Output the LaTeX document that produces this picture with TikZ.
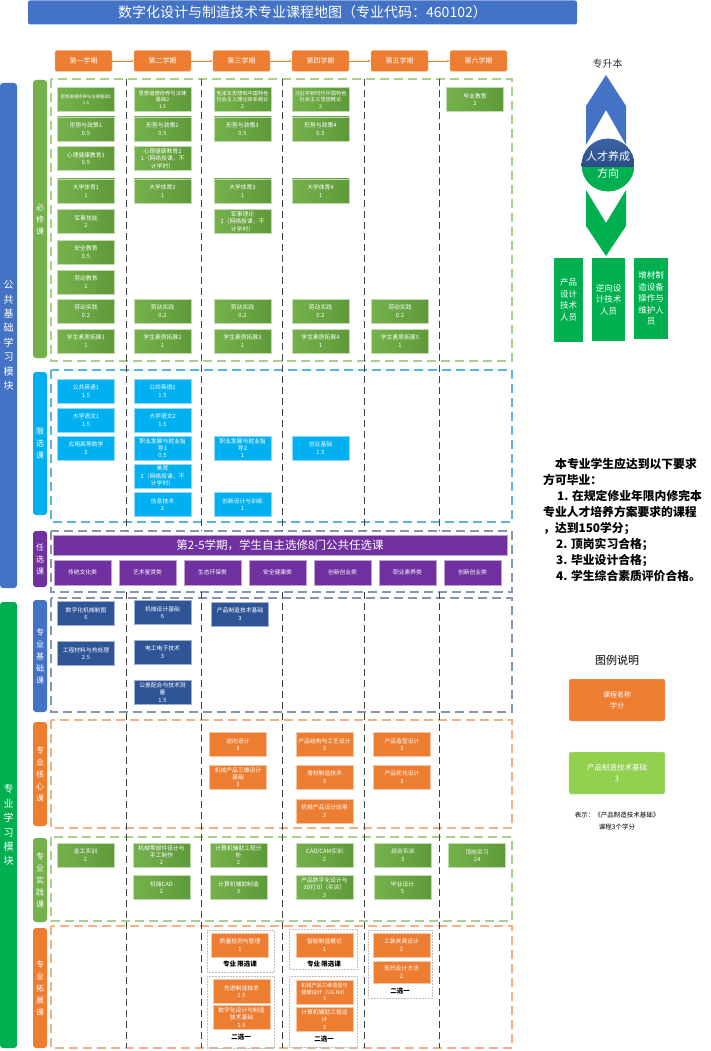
\documentclass[tikz,border=0pt]{standalone}
\usepackage{fontspec}
\setmainfont{Noto Sans CJK SC}
\usepackage{xcolor}
\usepackage{tikz}
\usetikzlibrary{arrows.meta, positioning, calc}

\definecolor{ctitle}{HTML}{4472C4}
\definecolor{corange}{HTML}{ED7D31}
\definecolor{cgreenA}{HTML}{75B14B}
\definecolor{cgreenB}{HTML}{5E9A38}
\definecolor{ccyan}{HTML}{00B0F0}
\definecolor{cpurp}{HTML}{7030A0}
\definecolor{cnavy}{HTML}{2F5597}
\definecolor{clgreen}{HTML}{92D050}
\definecolor{cmodg}{HTML}{00B050}
\definecolor{cnavyA}{HTML}{3A64A8}
\definecolor{cnavyB}{HTML}{1F3864}
\definecolor{ffgreen}{HTML}{A9D18E}
\definecolor{ffcyan}{HTML}{5AB4E0}
\definecolor{ffgray}{HTML}{8497B0}
\definecolor{fforange}{HTML}{F4B183}

\begin{document}
\begin{tikzpicture}[x=1pt, y=-1pt,
    crs/.style={rectangle, minimum width=57, minimum height=24, inner sep=0.5pt, align=center, text=white, line width=0.6pt, font=\fontsize{5.8}{7.4}\selectfont},
    bxg/.style={crs, left color=cgreenA, right color=cgreenB, draw=cgreenA!45!white},
    bxc/.style={crs, fill=ccyan, draw=ccyan!45!white},
    bxp/.style={crs, fill=cpurp, draw=cpurp!45!white},
    bxb/.style={crs, fill=cnavy, draw=cnavy!45!white},
    bxo/.style={crs, fill=corange, draw=corange!45!white},
    hdr/.style={fill=corange, draw=corange!50!white, rounded corners=2pt, minimum width=57, minimum height=21, text=white, inner sep=0pt, font=\fontsize{7}{8}\selectfont},
    frame/.style={dash pattern=on 9pt off 5pt, line width=1.2pt},
    sep/.style={black!75, dash pattern=on 7pt off 4pt, line width=0.7pt},
    catlbl/.style={rounded corners=3pt, minimum width=14, text=white, align=center, inner sep=0pt, font=\fontsize{8}{12}\selectfont},
    modbar/.style={rounded corners=3pt, minimum width=17, text=white, align=center, inner sep=0pt, font=\fontsize{10}{14.4}\selectfont},
    grp/.style={draw=black!25, densely dotted, line width=0.5pt},
    pickcap/.style={font=\fontsize{6.5}{8}\selectfont\bfseries, inner sep=0pt},
    career/.style={fill=cmodg, text=white, align=center, inner sep=0pt, font=\fontsize{8.5}{11.5}\selectfont}
]
    \useasboundingbox (0,0) rectangle (711,1051);

    % Title
    \node[fill=ctitle, rounded corners=2pt, minimum width=549, minimum height=24, inner sep=0pt, text=white, font=\fontsize{14}{16}\selectfont] (title) at (302.5,12.5) {数字化设计与制造技术专业课程地图（专业代码：460102）};

    % Semester headers
    \node[hdr] (s1) at (83.5,61) {第一学期};
    \node[hdr] (s2) at (162.5,61) {第二学期};
    \node[hdr] (s3) at (241.5,61) {第三学期};
    \node[hdr] (s4) at (320.5,61) {第四学期};
    \node[hdr] (s5) at (399.5,61) {第五学期};
    \node[hdr] (s6) at (478.5,61) {第六学期};
    \foreach \a/\b in {s1/s2,s2/s3,s3/s4,s4/s5,s5/s6}
        \draw[-{Stealth[length=3pt]}, corange, line width=0.8pt] (\a) -- (\b);

    % Module bars
    \node[modbar, fill=ctitle, minimum height=505] (modA) at (8.5,335.5) {公\\共\\基\\础\\学\\习\\模\\块};
    \node[modbar, fill=cmodg, minimum height=446] (modB) at (8.5,825) {专\\业\\学\\习\\模\\块};

    % Category labels
    \node[catlbl, fill=cgreenA, minimum height=278] (kBX) at (40,219) {必\\修\\课};
    \node[catlbl, fill=ccyan, minimum height=143] (kXX) at (40,443.5) {限\\选\\课};
    \node[catlbl, fill=cpurp, minimum height=56] (kRX) at (40,559) {任\\选\\课};
    \node[catlbl, fill=ctitle, minimum height=112] (kJC) at (40,656) {专\\业\\基\\础\\课};
    \node[catlbl, fill=corange, minimum height=104] (kHX) at (40,774) {专\\业\\核\\心\\课};
    \node[catlbl, fill=cgreenA, minimum height=84] (kSJ) at (40,880) {专\\业\\实\\践\\课};
    \node[catlbl, fill=corange, minimum height=120] (kTZ) at (40,988) {专\\业\\拓\\展\\课};

    % Frames
    \draw[frame, draw=ffgreen] (51,79) rectangle (512,361);
    \draw[frame, draw=ffcyan] (51,370) rectangle (512,522);
    \draw[frame, draw=ffgray] (51,531) rectangle (512,592);
    \draw[frame, draw=ffgray] (51,598) rectangle (512,712);
    \draw[frame, draw=fforange] (51,720) rectangle (512,828);
    \draw[frame, draw=ffgreen] (51,837) rectangle (512,921);
    \draw[frame, draw=fforange] (51,926) rectangle (512,1048);

    % Column separators
    \foreach \sx in {126,201,282,364,439} {
        \draw[sep] (\sx,79) -- (\sx,531);
        \draw[sep] (\sx,592) -- (\sx,1048);
    }

    % Required courses
    \node[bxg, font=\fontsize{4.4}{6.2}\selectfont] (bA1) at (86,99.5) {思想道德修养与法律基础1\\1.5};
    \node[bxg] (bA3) at (86,158.5) {心理健康教育1\\0.5};
    \node[bxg] (bA5) at (86,221.5) {军事技能\\2};
    \node[bxg] (bA6) at (86,252) {安全教育\\0.5};
    \node[bxg] (bA7) at (86,282) {劳动教育\\1};
    \node[bxg, font=\fontsize{5.3}{6.6}\selectfont] (bB1) at (162.5,99.5) {思想道德修养与法律\\基础2\\1.5};
    \node[bxg] (bB3) at (162.5,158.5) {心理健康教育2\\1（网络授课，不\\计学时）};
    \node[bxg, font=\fontsize{5.2}{6.6}\selectfont] (bC1) at (242.5,99.5) {毛泽东思想和中国特色\\社会主义理论体系概论\\2};
    \node[bxg] (bC5) at (242.5,221.5) {军事理论\\2（网络授课，不\\计学时）};
    \node[bxg, font=\fontsize{5.2}{6.6}\selectfont] (bD1) at (320.5,99.5) {习近平新时代中国特色\\社会主义思想概论\\2};
    \node[bxg] (bF1) at (475,99.5) {毕业教育\\2};
    \foreach \i/\cx in {1/86,2/162.5,3/242.5,4/320.5} {
        \node[bxg] (bX\i) at (\cx,129) {形势与政策\i\\0.5};
        \node[bxg] (bT\i) at (\cx,191) {大学体育\i\\1};
    }
    \foreach \i/\cx in {1/86,2/162.5,3/242.5,4/320.5,5/400} {
        \node[bxg] (bL\i) at (\cx,311) {劳动实践\\0.2};
        \node[bxg] (bS\i) at (\cx,341) {学生素质拓展\i\\1};
    }

    % Restricted electives
    \node[bxc] (xA1) at (86,391) {公共英语1\\1.5};
    \node[bxc] (xA2) at (86,420) {大学语文1\\1.5};
    \node[bxc] (xA3) at (86,448) {应用高等数学\\2};
    \node[bxc] (xB1) at (162.5,391) {公共英语2\\1.5};
    \node[bxc] (xB2) at (162.5,420) {大学语文2\\1.5};
    \node[bxc] (xB3) at (162.5,448) {职业发展与就业指\\导1\\0.5};
    \node[bxc] (xB4) at (162.5,476) {美育\\2（网络授课，不\\计学时）};
    \node[bxc] (xB5) at (162.5,504.5) {信息技术\\2};
    \node[bxc] (xC3) at (242.5,448) {职业发展与就业指\\导2\\1};
    \node[bxc] (xC5) at (242.5,504.5) {创新设计与训练\\1};
    \node[bxc] (xD3) at (320.5,448) {创业基础\\1.5};

    % Free electives
    \node[fill=cpurp, draw=cpurp!45!white, minimum width=454, minimum height=20, inner sep=0pt, text=white, font=\fontsize{11.5}{13}\selectfont] (rTitle) at (280,545) {第2-5学期，学生自主选修8门公共任选课};
    \foreach \i/\t in {1/传统文化类,2/艺术鉴赏类,3/生态环保类,4/安全健康类,5/创新创业类,6/职业素养类,7/创新创业类}
        \node[bxp, minimum height=25] (r\i) at ({17.5+65*\i},572.5) {\t};

    % Professional basics
    \node[bxb] (jA1) at (86,613.5) {数字化机械制图\\6};
    \node[bxb] (jA2) at (86,653.5) {工程材料与热处理\\2.5};
    \node[bxb] (jB1) at (162.5,612.5) {机械设计基础\\6};
    \node[bxb] (jB2) at (162.5,652) {电工电子技术\\3};
    \node[bxb] (jB3) at (162.5,692.5) {公差配合与技术测\\量\\1.5};
    \node[bxb] (jC1) at (240,614) {产品制造技术基础\\3};

    % Professional core
    \node[bxo] (hC1) at (238,744.5) {逆向设计\\3};
    \node[bxo] (hC2) at (238,777) {机械产品三维设计\\基础\\3};
    \node[bxo] (hD1) at (324.5,744.5) {产品结构与工艺设计\\3};
    \node[bxo] (hD2) at (324.5,777) {增材制造技术\\3};
    \node[bxo] (hD3) at (324.5,811) {机械产品设计应用\\3};
    \node[bxo] (hE1) at (402,744.5) {产品造型设计\\3};
    \node[bxo] (hE2) at (402,777) {产品优化设计\\3};

    % Professional practice
    \node[bxg] (pA1) at (85.5,855) {金工实训\\2};
    \node[bxg] (pB1) at (161.5,855) {机械零部件设计与\\手工制作\\2};
    \node[bxg] (pB2) at (161.5,887.5) {机械CAD\\2};
    \node[bxg] (pC1) at (238.5,855) {计算机辅助工程分\\析\\2};
    \node[bxg] (pC2) at (238.5,887.5) {计算机辅助制造\\3};
    \node[bxg] (pD1) at (324.5,855) {CAD/CAM实训\\2};
    \node[bxg] (pD2) at (324.5,887.5) {产品数字化设计与\\3D打印（实训）\\3};
    \node[bxg] (pE1) at (403,855) {综合实训\\5};
    \node[bxg] (pE2) at (402.5,887.5) {毕业设计\\5};
    \node[bxg] (pF1) at (477,855.5) {顶岗实习\\24};

    % Professional extension
    \draw[grp] (207,930) rectangle (274,972);
    \draw[grp] (207,976) rectangle (274,1048);
    \draw[grp] (289,929) rectangle (357,969);
    \draw[grp] (289,976) rectangle (357,1047);
    \draw[grp] (368,930) rectangle (432,998);
    \node[bxo] (tC1) at (240,945) {质量检测与管理\\1};
    \node[pickcap] (tC1c) at (240,964) {专业 限选课};
    \node[bxo] (tC2) at (241.5,991.5) {先进制造技术\\1.5};
    \node[bxo] (tC3) at (241.5,1017.5) {数字化设计与制造\\技术基础\\1.5};
    \node[pickcap] (tC3c) at (241,1037) {二选一};
    \node[bxo] (tD1) at (324.5,945) {智能制造概论\\1};
    \node[pickcap] (tD1c) at (324,964) {专业 限选课};
    \node[bxo, font=\fontsize{5.2}{6.6}\selectfont] (tD2) at (324.5,992) {机械产品三维造型与\\建模设计（UG NX）\\3};
    \node[bxo] (tD3) at (324.5,1019.5) {计算机辅助工程设\\计\\3};
    \node[pickcap] (tD3c) at (324,1039) {二选一};
    \node[bxo] (tE1) at (401.5,945) {工装夹具设计\\2};
    \node[bxo, minimum height=22] (tE2) at (401.5,972) {现代设计方法\\2};
    \node[pickcap] (tE2c) at (400,991) {二选一};

    % Career direction
    \node[font=\fontsize{10}{11}\selectfont, text=black!80] (up) at (607.5,64) {专升本};
    \fill[ctitle] (606,75) -- (626,106) -- (626,145) -- (606,110) -- (586,145) -- (586,106) -- cycle;
    \fill[cmodg] (586,190) -- (606,223) -- (626,190) -- (626,226) -- (606,256) -- (586,226) -- cycle;
    \node[circle, minimum size=53, inner sep=0pt, text=white, align=center, font=\fontsize{11}{17}\selectfont,
        path picture={
            \shade[top color=cnavyA, bottom color=cnavyB] (path picture bounding box.north west) rectangle ([yshift=-2pt]path picture bounding box.east);
            \fill[cmodg] ([yshift=-2pt]path picture bounding box.west) rectangle (path picture bounding box.south east);
        }] (dir) at (608,165) {人才养成\\方向};
    \node[career, minimum width=29, minimum height=84] (jobA) at (568.5,300) {产品\\设计\\技术\\人员};
    \node[career, minimum width=33, minimum height=83] (jobB) at (608.5,299.5) {逆向设\\计技术\\人员};
    \node[career, minimum width=34, minimum height=81] (jobC) at (651,298.5) {增材制\\造设备\\操作与\\维护人\\员};

    % Graduation requirements
    \node[anchor=north west, align=left, inner sep=0pt, font=\fontsize{11.8}{16}\selectfont\bfseries] (req) at (543,458) {%
        \hspace*{12pt}本专业学生应达到以下要求\\
        方可毕业：\\
        \hspace*{14pt}1. 在规定修业年限内修完本\\
        专业人才培养方案要求的课程\\
        ，达到150学分；\\
        \hspace*{13pt}2. 顶岗实习合格；\\
        \hspace*{13pt}3. 毕业设计合格；\\
        \hspace*{13pt}4. 学生综合素质评价合格。};

    % Legend
    \node[font=\fontsize{11}{12}\selectfont] (lgT) at (617,660) {图例说明};
    \node[fill=corange, draw=corange!45!white, rounded corners=2pt, minimum width=96, minimum height=42, inner sep=0pt, text=white, align=center, font=\fontsize{7}{11}\selectfont] (lgA) at (617,700) {课程名称\\学分};
    \node[fill=clgreen, draw=clgreen!45!white, rounded corners=2pt, minimum width=96, minimum height=42, inner sep=0pt, text=white, align=center, font=\fontsize{7.5}{11}\selectfont] (lgB) at (617,773) {产品制造技术基础\\3};
    \node[align=center, inner sep=0pt, font=\fontsize{6.5}{12}\selectfont] (lgC) at (617,821) {表示：《产品制造技术基础》\\课程3个学分};

\end{tikzpicture}
\end{document}
